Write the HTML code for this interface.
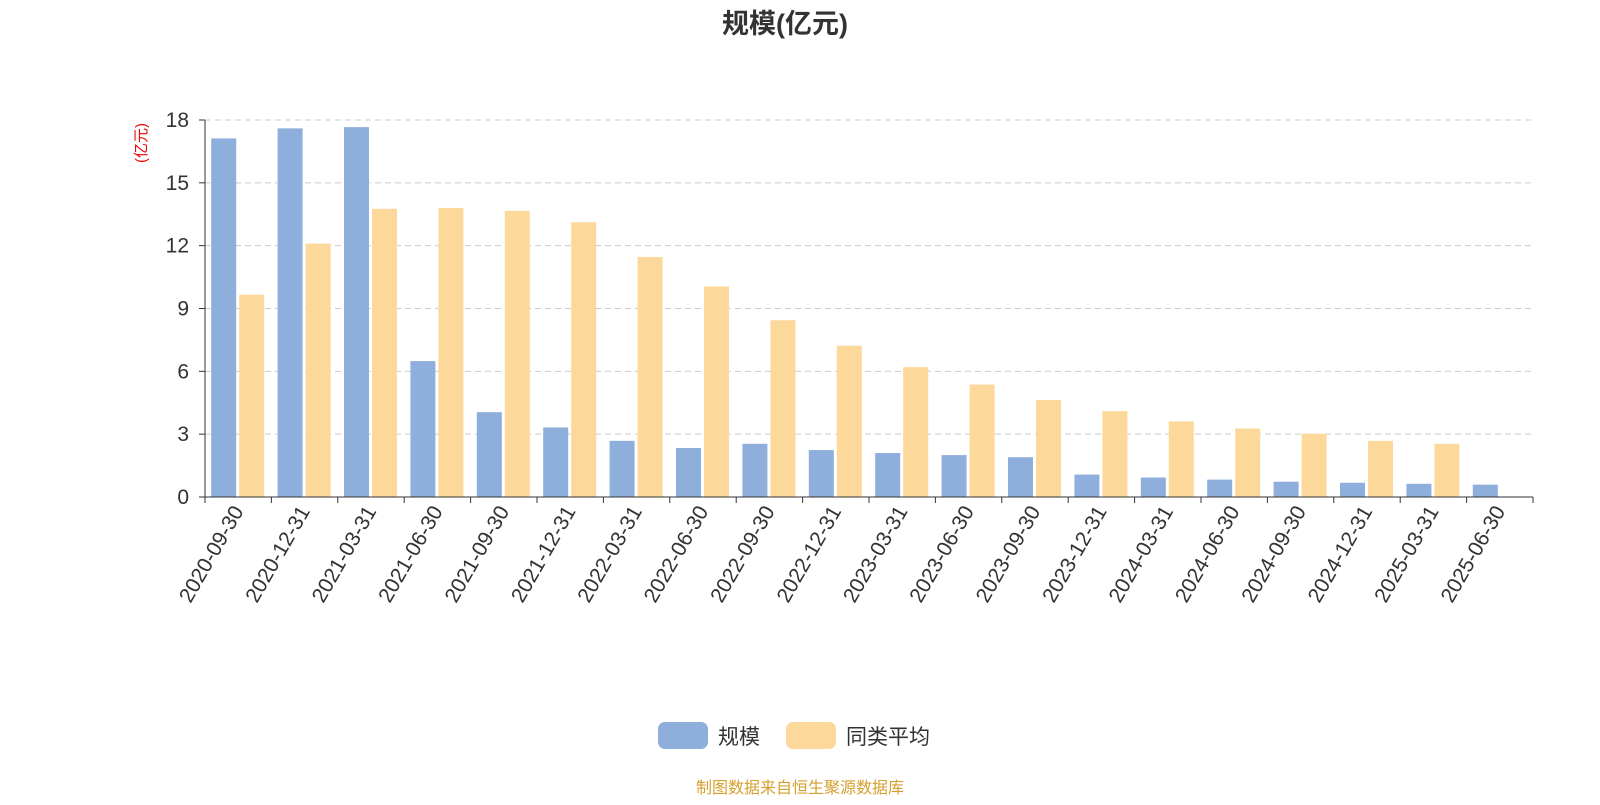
<!DOCTYPE html>
<html><head><meta charset="utf-8"><style>
body{margin:0;background:#fff;width:1600px;height:800px;overflow:hidden;font-family:"Liberation Sans","Noto Sans CJK SC",sans-serif}
</style></head><body>
<svg id="c" width="1600" height="800" xmlns="http://www.w3.org/2000/svg" font-family="Liberation Sans, Noto Sans CJK SC, sans-serif">
<text x="785" y="33" text-anchor="middle" font-size="27" font-weight="bold" fill="#333">规模(亿元)</text>
<text transform="translate(146,143) rotate(-90)" text-anchor="middle" font-size="15" fill="#e00">(亿元)</text>
<g id="grid"></g><g id="bars"></g><g id="axes"></g>
<g>
<g><rect x="658" y="722" width="50" height="27" rx="7" fill="#8eaedb"/><text x="718" y="744" font-size="21" fill="#333">规模</text></g>
<g><rect x="786" y="722" width="50" height="27" rx="7" fill="#fdd89b"/><text x="846" y="744" font-size="21" fill="#333">同类平均</text></g>
</g>
<text x="800" y="793" text-anchor="middle" font-size="16" fill="#d4a02e">制图数据来自恒生聚源数据库</text>
</svg>
<script>
const categories=["2020-09-30","2020-12-31","2021-03-31","2021-06-30","2021-09-30","2021-12-31","2022-03-31","2022-06-30","2022-09-30","2022-12-31","2023-03-31","2023-06-30","2023-09-30","2023-12-31","2024-03-31","2024-06-30","2024-09-30","2024-12-31","2025-03-31","2025-06-30"];
const scaleValues=[17.12,17.6,17.66,6.49,4.05,3.32,2.68,2.34,2.54,2.24,2.1,2.0,1.9,1.07,0.93,0.83,0.73,0.68,0.63,0.59];
const avgValues=[9.66,12.1,13.76,13.8,13.66,13.12,11.46,10.05,8.44,7.22,6.2,5.37,4.63,4.1,3.61,3.27,3.02,2.68,2.54,null];
const yTicks=[0,3,6,9,12,15,18];
const NS="http://www.w3.org/2000/svg";
const x0=205,x1=1533,y0=497,yTop=120,yMax=18;
const bw=(x1-x0)/categories.length;
const y=v=>y0-(v/yMax)*(y0-yTop);
const xc=i=>x0+bw*(i+0.5);
function mk(t,a,p){const e=document.createElementNS(NS,t);for(const k in a)e.setAttribute(k,a[k]);p.appendChild(e);return e;}
const grid=document.getElementById('grid'),bars=document.getElementById('bars'),axes=document.getElementById('axes');
yTicks.forEach(t=>{
 if(t>0){const g=mk('line',{x1:x0,x2:x1,y1:y(t),y2:y(t),stroke:'#ccc','stroke-dasharray':'6,4'},grid);
 
 }
 const l=mk('text',{x:x0-16,y:y(t)+7,'text-anchor':'end','font-size':21,fill:'#333'},axes);l.textContent=t;
 
 
 mk('line',{x1:x0-6,x2:x0,y1:y(t),y2:y(t),stroke:'#333'},axes);
});
mk('line',{x1:x0,x2:x0,y1:yTop,y2:y0,stroke:'#333'},axes);
mk('line',{x1:x0,x2:x1,y1:y0,y2:y0,stroke:'#333'},axes);
categories.forEach((c,i)=>{
 const cx=xc(i);
 const v1=scaleValues[i];
 const r1=mk('rect',{x:cx-27,y:y(v1),width:25,height:y0-y(v1),fill:'#8eaedb'},bars);
 
 
 const v2=avgValues[i];
 if(v2!=null){const r2=mk('rect',{x:cx+1,y:y(v2),width:25,height:y0-y(v2),fill:'#fdd89b'},bars);
 
 }
 mk('line',{x1:x0+bw*i,x2:x0+bw*i,y1:y0,y2:y0+6,stroke:'#333'},axes);
 const t=mk('text',{transform:`translate(${cx+6},${y0+14}) rotate(-60)`,'text-anchor':'end','font-size':21,fill:'#333'},axes);t.textContent=c;
 
 
});
mk('line',{x1:x1,x2:x1,y1:y0,y2:y0+6,stroke:'#333'},axes);
</script>
</body></html>
